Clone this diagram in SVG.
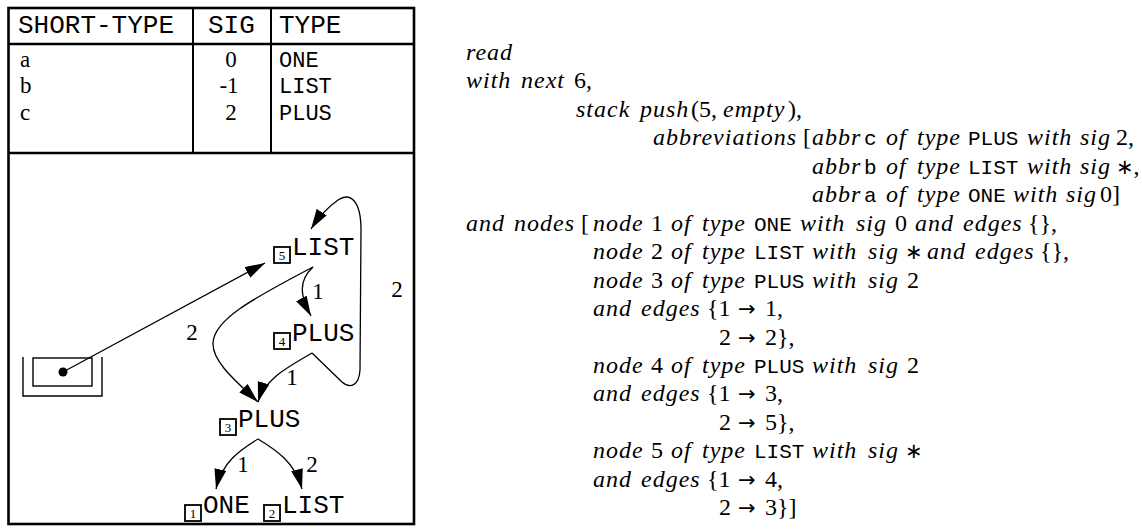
<svg xmlns="http://www.w3.org/2000/svg" width="1142" height="529" viewBox="0 0 1142 529">
  <style>
    .rule { stroke: #000; fill: none; }
    .thick { stroke-width: 2.6; }
    .thin { stroke-width: 2; }
    .tt { font-family: "Liberation Mono", "DejaVu Sans Mono", monospace; fill: #000; }
    .rm { font-family: "Liberation Serif", "DejaVu Serif", serif; fill: #000; }
    .it { font-family: "Liberation Serif", "DejaVu Serif", serif; font-style: italic; fill: #000; }
    .sym { font-family: "DejaVu Sans", "Liberation Sans", sans-serif; fill: #000; }
    .head { font-size: 26px; }
    .cell { font-size: 22px; }
    .cellrm { font-size: 23px; }
    .lbl { font-family: "Liberation Mono", "DejaVu Sans Mono", monospace; font-size: 26px; fill: #000; }
    .idx { stroke: #000; stroke-width: 1.8; fill: #fff; }
    .idxt { font-family: "Liberation Serif", serif; font-size: 13px; text-anchor: middle; fill: #000; }
    .edge { stroke: #000; stroke-width: 1.3; fill: none; marker-end: url(#head); }
    .elbl { font-family: "Liberation Serif", serif; font-size: 23px; text-anchor: middle; fill: #000; }
    .prog { font-size: 24px; }
    .prog .it { letter-spacing: 1px; }
    .prog .tt { font-size: 21px; }
    .prog .sym { font-size: 21px; }
  </style>
  <defs>
    <marker id="head" viewBox="0 0 20 12" refX="20" refY="6" markerWidth="20" markerHeight="12" markerUnits="userSpaceOnUse" orient="auto">
      <path d="M0,0 L20,6 L0,12 Z" fill="#000"/>
    </marker>
  </defs>

  <!-- table frame and the abbreviation rows -->
  <g id="table">
    <rect class="rule thick" x="8.5" y="8" width="405.5" height="516"/>
    <line class="rule thick" x1="8.5" y1="44" x2="414" y2="44"/>
    <line class="rule thick" x1="8.5" y1="153" x2="414" y2="153"/>
    <line class="rule thin" x1="193" y1="8" x2="193" y2="153"/>
    <line class="rule thin" x1="271" y1="8" x2="271" y2="153"/>

    <text class="tt head" x="18" y="33">SHORT-TYPE</text>
    <text class="tt head" x="208" y="33">SIG</text>
    <text class="tt head" x="279" y="33">TYPE</text>

    <text class="rm cellrm" x="20" y="67">a</text>
    <text class="rm cellrm" x="231" y="67" text-anchor="middle">0</text>
    <text class="tt cell" x="279" y="67">ONE</text>

    <text class="rm cellrm" x="20" y="93">b</text>
    <text class="rm cellrm" x="229" y="93" text-anchor="middle">-1</text>
    <text class="tt cell" x="279" y="93">LIST</text>

    <text class="rm cellrm" x="20" y="120">c</text>
    <text class="rm cellrm" x="231" y="120" text-anchor="middle">2</text>
    <text class="tt cell" x="279" y="120">PLUS</text>
  </g>

  <!-- stack holding a pointer -->
  <g id="stack">
    <path class="rule" stroke-width="1.4" d="M23,357 V396 H102 V357"/>
    <rect class="rule" stroke-width="1.4" x="33" y="358" width="59" height="28"/>
    <circle cx="63" cy="372" r="4.5" fill="#000"/>
  </g>

  <!-- graph nodes -->
  <g id="node5">
    <rect class="idx" x="274" y="247" width="16" height="16"/>
    <text class="idxt" x="282" y="260">5</text>
    <text class="lbl" x="292" y="255">LIST</text>
  </g>
  <g id="node4">
    <rect class="idx" x="274" y="333" width="16" height="16"/>
    <text class="idxt" x="282" y="346">4</text>
    <text class="lbl" x="292" y="341">PLUS</text>
  </g>
  <g id="node3">
    <rect class="idx" x="220" y="419" width="16" height="16"/>
    <text class="idxt" x="228" y="432">3</text>
    <text class="lbl" x="238" y="427">PLUS</text>
  </g>
  <g id="node1">
    <rect class="idx" x="185" y="505" width="16" height="16"/>
    <text class="idxt" x="193" y="518">1</text>
    <text class="lbl" x="203" y="513">ONE</text>
  </g>
  <g id="node2">
    <rect class="idx" x="264" y="505" width="16" height="16"/>
    <text class="idxt" x="272" y="518">2</text>
    <text class="lbl" x="282" y="513">LIST</text>
  </g>

  <!-- connectors -->
  <g id="edges">
    <path class="edge" d="M63,372 L265,263"/>
    <path class="edge" d="M313,267 C298,281 300,296 311,316"/>
    <path class="edge" d="M313,267 C250,300 214,320 213,343 C212,362 238,383 258,402"/>
    <path class="edge" d="M312,353 C290,366 265,378 258,402"/>
    <path class="edge" d="M312,353 L342,382 C350,389 359,386 360,370 L361,230 C361,200 350,192 338,200 C328,207 318,218 311,229"/>
    <path class="edge" d="M258,439 C240,450 222,462 216,489"/>
    <path class="edge" d="M258,439 C276,450 295,462 302,489"/>

    <text class="elbl" x="192" y="340">2</text>
    <text class="elbl" x="318" y="299">1</text>
    <text class="elbl" x="397" y="297">2</text>
    <text class="elbl" x="292" y="385">1</text>
    <text class="elbl" x="243" y="472">1</text>
    <text class="elbl" x="312" y="472">2</text>
  </g>

  <!-- program text -->
  <g id="program" class="prog">
    <text class="it" x="466" y="60">read</text>

    <text y="88"><tspan class="it" x="466">with</tspan><tspan class="it" x="521">next</tspan><tspan class="rm" x="574">6,</tspan></text>

    <text y="117"><tspan class="it" x="576">stack</tspan><tspan class="it" x="640">push</tspan><tspan class="rm" x="691">(5,</tspan><tspan class="it" x="723">empty</tspan><tspan class="rm" x="788">),</tspan></text>

    <text y="145"><tspan class="it" x="653">abbreviations</tspan><tspan class="rm" x="803">[</tspan><tspan class="it" x="812">abbr</tspan><tspan class="tt" x="864">c</tspan><tspan class="it" x="886">of</tspan><tspan class="it" x="917">type</tspan><tspan class="tt" x="968">PLUS</tspan><tspan class="it" x="1027">with</tspan><tspan class="it" x="1080">sig</tspan><tspan class="rm" x="1116">2,</tspan></text>
    <text y="174"><tspan class="it" x="812">abbr</tspan><tspan class="tt" x="864">b</tspan><tspan class="it" x="886">of</tspan><tspan class="it" x="917">type</tspan><tspan class="tt" x="968">LIST</tspan><tspan class="it" x="1027">with</tspan><tspan class="it" x="1080">sig</tspan><tspan class="sym" x="1116">∗</tspan><tspan class="rm">,</tspan></text>
    <text y="202"><tspan class="it" x="812">abbr</tspan><tspan class="tt" x="864">a</tspan><tspan class="it" x="886">of</tspan><tspan class="it" x="917">type</tspan><tspan class="tt" x="968">ONE</tspan><tspan class="it" x="1013">with</tspan><tspan class="it" x="1066">sig</tspan><tspan class="rm" x="1100">0]</tspan></text>

    <text y="231"><tspan class="it" x="466">and</tspan><tspan class="it" x="514">nodes</tspan><tspan class="rm" x="581">[</tspan><tspan class="it" x="593">node</tspan><tspan class="rm" x="651">1</tspan><tspan class="it" x="671">of</tspan><tspan class="it" x="702">type</tspan><tspan class="tt" x="754">ONE</tspan><tspan class="it" x="800">with</tspan><tspan class="it" x="856">sig</tspan><tspan class="rm" x="895">0</tspan><tspan class="it" x="915">and</tspan><tspan class="it" x="963">edges</tspan><tspan class="rm" x="1028">{},</tspan></text>
    <text y="259"><tspan class="it" x="593">node</tspan><tspan class="rm" x="651">2</tspan><tspan class="it" x="671">of</tspan><tspan class="it" x="702">type</tspan><tspan class="tt" x="754">LIST</tspan><tspan class="it" x="812">with</tspan><tspan class="it" x="868">sig</tspan><tspan class="sym" x="905">∗</tspan><tspan class="it" x="927">and</tspan><tspan class="it" x="975">edges</tspan><tspan class="rm" x="1040">{},</tspan></text>
    <text y="288"><tspan class="it" x="593">node</tspan><tspan class="rm" x="651">3</tspan><tspan class="it" x="671">of</tspan><tspan class="it" x="702">type</tspan><tspan class="tt" x="754">PLUS</tspan><tspan class="it" x="812">with</tspan><tspan class="it" x="868">sig</tspan><tspan class="rm" x="907">2</tspan></text>
    <text y="316"><tspan class="it" x="593">and</tspan><tspan class="it" x="641">edges</tspan><tspan class="rm" x="707">{1</tspan><tspan class="sym" x="738">→</tspan><tspan class="rm" x="765">1,</tspan></text>
    <text y="345"><tspan class="rm" x="719">2</tspan><tspan class="sym" x="738">→</tspan><tspan class="rm" x="765">2},</tspan></text>

    <text y="373"><tspan class="it" x="593">node</tspan><tspan class="rm" x="651">4</tspan><tspan class="it" x="671">of</tspan><tspan class="it" x="702">type</tspan><tspan class="tt" x="754">PLUS</tspan><tspan class="it" x="812">with</tspan><tspan class="it" x="868">sig</tspan><tspan class="rm" x="907">2</tspan></text>
    <text y="401"><tspan class="it" x="593">and</tspan><tspan class="it" x="641">edges</tspan><tspan class="rm" x="707">{1</tspan><tspan class="sym" x="738">→</tspan><tspan class="rm" x="765">3,</tspan></text>
    <text y="430"><tspan class="rm" x="719">2</tspan><tspan class="sym" x="738">→</tspan><tspan class="rm" x="765">5},</tspan></text>

    <text y="458"><tspan class="it" x="593">node</tspan><tspan class="rm" x="651">5</tspan><tspan class="it" x="671">of</tspan><tspan class="it" x="702">type</tspan><tspan class="tt" x="754">LIST</tspan><tspan class="it" x="812">with</tspan><tspan class="it" x="868">sig</tspan><tspan class="sym" x="905">∗</tspan></text>
    <text y="487"><tspan class="it" x="593">and</tspan><tspan class="it" x="641">edges</tspan><tspan class="rm" x="707">{1</tspan><tspan class="sym" x="738">→</tspan><tspan class="rm" x="765">4,</tspan></text>
    <text y="515"><tspan class="rm" x="719">2</tspan><tspan class="sym" x="738">→</tspan><tspan class="rm" x="765">3}]</tspan></text>
  </g>
</svg>
